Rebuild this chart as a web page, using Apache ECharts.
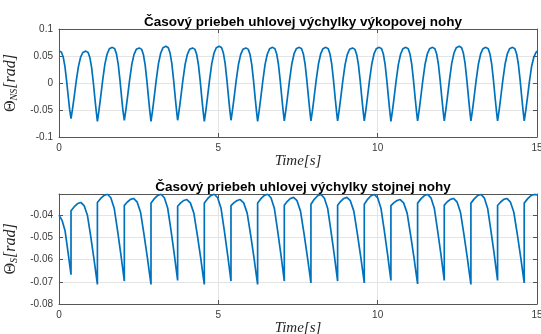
<!DOCTYPE html>
<html><head><meta charset="utf-8">
<script src="https://cdn.jsdelivr.net/npm/echarts@6/dist/echarts.min.js"></script>
<style>html,body{margin:0;padding:0;background:#fff}#c{width:541px;height:334px}</style>
</head><body><div id="c"></div>
<script>
const titleTop = 'Časový priebeh uhlovej výchylky výkopovej nohy';
const titleBottom = 'Časový priebeh uhlovej výchylky stojnej nohy';
const xName = 'Time[s]';
const xTicks = [0, 5, 10, 15];
const nsTicks = [-0.1, -0.05, 0, 0.05, 0.1];
const sTicks = [-0.08, -0.07, -0.06, -0.05, -0.04];
const sMax = -0.0305;

// swing leg (vykopova noha)
const nsTime = [
 0, 0.074, 0.13, 0.185, 0.24, 0.296, 0.333,
 0.377, 0.423, 0.470, 0.539, 0.609, 0.678, 0.748, 0.841, 0.914, 0.968, 1.023, 1.078, 1.132, 1.169,
 1.205, 1.252, 1.299, 1.369, 1.439, 1.510, 1.580, 1.674, 1.748, 1.803, 1.858, 1.913, 1.968, 2.005,
 2.050, 2.097, 2.144, 2.214, 2.284, 2.355, 2.425, 2.519, 2.593, 2.648, 2.703, 2.758, 2.813, 2.850,
 2.887, 2.934, 2.981, 3.051, 3.121, 3.192, 3.262, 3.356, 3.430, 3.485, 3.540, 3.595, 3.650, 3.687,
 3.723, 3.770, 3.817, 3.887, 3.957, 4.028, 4.098, 4.192, 4.266, 4.321, 4.376, 4.431, 4.486, 4.523,
 4.560, 4.607, 4.654, 4.724, 4.794, 4.865, 4.935, 5.029, 5.103, 5.158, 5.213, 5.268, 5.323, 5.360,
 5.397, 5.444, 5.491, 5.561, 5.631, 5.702, 5.772, 5.866, 5.940, 5.995, 6.050, 6.105, 6.160, 6.197,
 6.233, 6.280, 6.327, 6.397, 6.467, 6.538, 6.608, 6.702, 6.776, 6.831, 6.886, 6.941, 6.996, 7.033,
 7.070, 7.117, 7.164, 7.234, 7.304, 7.375, 7.445, 7.539, 7.613, 7.668, 7.723, 7.778, 7.833, 7.870,
 7.906, 7.953, 8.000, 8.070, 8.140, 8.211, 8.281, 8.375, 8.449, 8.504, 8.559, 8.614, 8.669, 8.706,
 8.743, 8.790, 8.837, 8.907, 8.977, 9.048, 9.118, 9.212, 9.286, 9.341, 9.396, 9.451, 9.506, 9.543,
 9.580, 9.627, 9.674, 9.744, 9.814, 9.885, 9.955, 10.049, 10.123, 10.178, 10.233, 10.288, 10.343, 10.380,
 10.416, 10.463, 10.510, 10.580, 10.650, 10.721, 10.791, 10.885, 10.959, 11.014, 11.069, 11.124, 11.179, 11.216,
 11.253, 11.300, 11.347, 11.417, 11.487, 11.558, 11.628, 11.722, 11.796, 11.851, 11.906, 11.961, 12.016, 12.053,
 12.090, 12.137, 12.184, 12.254, 12.324, 12.395, 12.465, 12.559, 12.633, 12.688, 12.743, 12.798, 12.853, 12.890,
 12.926, 12.973, 13.020, 13.090, 13.160, 13.231, 13.301, 13.395, 13.469, 13.524, 13.579, 13.634, 13.689, 13.726,
 13.763, 13.810, 13.857, 13.927, 13.997, 14.068, 14.138, 14.232, 14.306, 14.361, 14.416, 14.471, 14.526, 14.563,
 14.599, 14.646, 14.693, 14.763, 14.833, 14.904, 14.974, 15.0
];
const nsAngle = [
 0.059, 0.0575, 0.0487, 0.031, 0.0033, -0.0282, -0.0484,
 -0.066, -0.0485, -0.0285, 0.0028, 0.0303, 0.0478, 0.0565, 0.059, 0.0564, 0.0473, 0.0291, 0.0005, -0.032, -0.0528,
 -0.071, -0.0518, -0.0299, 0.0044, 0.0345, 0.0537, 0.0633, 0.066, 0.0633, 0.0539, 0.035, 0.0053, -0.0285, -0.0501,
 -0.069, -0.0502, -0.0288, 0.0047, 0.0342, 0.0529, 0.0623, 0.065, 0.0623, 0.0528, 0.0337, 0.0038, -0.0302, -0.052,
 -0.071, -0.0515, -0.0293, 0.0055, 0.036, 0.0555, 0.0652, 0.068, 0.0653, 0.0557, 0.0365, 0.0064, -0.0279, -0.0498,
 -0.069, -0.0502, -0.0288, 0.0047, 0.0342, 0.0529, 0.0623, 0.065, 0.0623, 0.0528, 0.0337, 0.0038, -0.0302, -0.052,
 -0.071, -0.0515, -0.0293, 0.0055, 0.036, 0.0555, 0.0652, 0.068, 0.0653, 0.0557, 0.0365, 0.0064, -0.0279, -0.0498,
 -0.069, -0.0502, -0.0288, 0.0047, 0.0342, 0.0529, 0.0623, 0.065, 0.0623, 0.0528, 0.0337, 0.0038, -0.0302, -0.052,
 -0.071, -0.0518, -0.0299, 0.0044, 0.0345, 0.0537, 0.0633, 0.066, 0.0633, 0.0538, 0.0347, 0.0048, -0.0292, -0.051,
 -0.070, -0.051, -0.0292, 0.0048, 0.0347, 0.0538, 0.0633, 0.066, 0.0633, 0.0538, 0.0347, 0.0048, -0.0292, -0.051,
 -0.070, -0.051, -0.0292, 0.0048, 0.0347, 0.0538, 0.0633, 0.066, 0.0633, 0.0538, 0.0347, 0.0048, -0.0292, -0.051,
 -0.070, -0.0511, -0.0295, 0.0043, 0.034, 0.0529, 0.0623, 0.065, 0.0623, 0.0529, 0.034, 0.0043, -0.0295, -0.0511,
 -0.070, -0.051, -0.0292, 0.0048, 0.0347, 0.0538, 0.0633, 0.066, 0.0633, 0.0537, 0.0345, 0.0044, -0.0299, -0.0518,
 -0.071, -0.0518, -0.0299, 0.0044, 0.0345, 0.0537, 0.0633, 0.066, 0.0633, 0.0538, 0.0347, 0.0048, -0.0292, -0.051,
 -0.070, -0.051, -0.0292, 0.0048, 0.0347, 0.0538, 0.0633, 0.066, 0.0633, 0.0538, 0.0347, 0.0048, -0.0292, -0.051,
 -0.070, -0.0507, -0.0286, 0.0059, 0.0363, 0.0556, 0.0652, 0.068, 0.0652, 0.0556, 0.0363, 0.0059, -0.0286, -0.0507,
 -0.070, -0.051, -0.0292, 0.0048, 0.0347, 0.0538, 0.0633, 0.066, 0.0633, 0.0538, 0.0347, 0.0048, -0.0292, -0.051,
 -0.070, -0.051, -0.0292, 0.0048, 0.0347, 0.0538, 0.0633, 0.066, 0.0633, 0.0538, 0.0347, 0.0048, -0.0292, -0.051,
 -0.070, -0.0515, -0.0302, 0.0030, 0.0315, 0.0485, 0.057, 0.059
];

// stance leg (stojna noha)
const sTime = [
 0, 0.1, 0.19, 0.29, 0.377,
 0.377, 0.479, 0.585, 0.687, 0.791, 0.894, 0.998, 1.101, 1.153, 1.205,
 1.205, 1.309, 1.416, 1.520, 1.626, 1.732, 1.838, 1.944, 1.997, 2.050,
 2.050, 2.146, 2.244, 2.340, 2.449, 2.559, 2.668, 2.778, 2.832, 2.887,
 2.887, 2.991, 3.098, 3.202, 3.306, 3.410, 3.515, 3.619, 3.671, 3.723,
 3.723, 3.819, 3.917, 4.013, 4.122, 4.232, 4.341, 4.451, 4.505, 4.560,
 4.560, 4.664, 4.771, 4.875, 4.979, 5.084, 5.188, 5.293, 5.345, 5.397,
 5.397, 5.493, 5.591, 5.687, 5.796, 5.905, 6.015, 6.124, 6.178, 6.233,
 6.233, 6.337, 6.444, 6.548, 6.652, 6.757, 6.861, 6.966, 7.018, 7.070,
 7.070, 7.166, 7.264, 7.360, 7.469, 7.578, 7.688, 7.797, 7.851, 7.906,
 7.906, 8.010, 8.117, 8.221, 8.325, 8.430, 8.534, 8.639, 8.691, 8.743,
 8.743, 8.839, 8.937, 9.033, 9.142, 9.252, 9.361, 9.471, 9.525, 9.580,
 9.580, 9.684, 9.791, 9.895, 9.999, 10.103, 10.208, 10.312, 10.364, 10.416,
 10.416, 10.512, 10.610, 10.706, 10.815, 10.925, 11.034, 11.144, 11.198, 11.253,
 11.253, 11.357, 11.464, 11.568, 11.672, 11.777, 11.881, 11.986, 12.038, 12.090,
 12.090, 12.186, 12.284, 12.380, 12.489, 12.598, 12.708, 12.817, 12.871, 12.926,
 12.926, 13.030, 13.137, 13.241, 13.345, 13.450, 13.554, 13.659, 13.711, 13.763,
 13.763, 13.859, 13.957, 14.053, 14.162, 14.271, 14.381, 14.490, 14.544, 14.599,
 14.599, 14.703, 14.810, 14.914, 15.0
];
const sAngle = [
 -0.040, -0.0425, -0.047, -0.0574, -0.0668,
 -0.038, -0.0362, -0.0348, -0.0343, -0.0358, -0.0402, -0.0498, -0.0601, -0.0657, -0.0712,
 -0.0343, -0.0325, -0.0311, -0.0306, -0.0322, -0.0369, -0.047, -0.058, -0.0638, -0.0697,
 -0.0356, -0.0341, -0.0329, -0.0325, -0.034, -0.0387, -0.0488, -0.0596, -0.0654, -0.0712,
 -0.0346, -0.0326, -0.0311, -0.0306, -0.0322, -0.0368, -0.0469, -0.0578, -0.0636, -0.0694,
 -0.036, -0.0345, -0.0334, -0.033, -0.0345, -0.0391, -0.049, -0.0597, -0.0655, -0.0712,
 -0.0346, -0.0326, -0.0311, -0.0306, -0.0322, -0.0369, -0.047, -0.058, -0.0638, -0.0697,
 -0.0357, -0.0344, -0.0334, -0.033, -0.0345, -0.0391, -0.049, -0.0597, -0.0655, -0.0712,
 -0.0346, -0.0326, -0.0311, -0.0306, -0.0322, -0.0369, -0.047, -0.058, -0.0638, -0.0697,
 -0.0356, -0.0338, -0.0325, -0.032, -0.0335, -0.0382, -0.0482, -0.059, -0.0647, -0.0705,
 -0.0351, -0.0329, -0.0313, -0.0307, -0.0323, -0.0369, -0.0471, -0.058, -0.0639, -0.0697,
 -0.0356, -0.0338, -0.0325, -0.032, -0.0335, -0.0382, -0.0482, -0.059, -0.0647, -0.0705,
 -0.0351, -0.0329, -0.0313, -0.0307, -0.0322, -0.0369, -0.047, -0.0578, -0.0636, -0.0694,
 -0.0357, -0.0344, -0.0334, -0.033, -0.0345, -0.0391, -0.049, -0.0596, -0.0653, -0.071,
 -0.0346, -0.0327, -0.0312, -0.0307, -0.0322, -0.0369, -0.047, -0.0578, -0.0636, -0.0694,
 -0.0355, -0.034, -0.0329, -0.0325, -0.034, -0.0387, -0.0488, -0.0596, -0.0654, -0.0712,
 -0.0346, -0.0327, -0.0312, -0.0307, -0.0322, -0.0369, -0.047, -0.0578, -0.0636, -0.0694,
 -0.0357, -0.0341, -0.0329, -0.0325, -0.034, -0.0386, -0.0485, -0.0591, -0.0648, -0.0705,
 -0.0346, -0.0327, -0.0312, -0.0307, -0.0309
];

const lineColor = '#0072BD';
const boxColor = '#555555';
const gridColor = '#e4e4e4';
const labelColor = '#3a3a3a';
const fmt = v => String(+v.toFixed(3));

function xAxes(gi) {
  return [{
    type: 'value', gridIndex: gi, min: xTicks[0], max: xTicks[xTicks.length - 1],
    interval: xTicks[1] - xTicks[0],
    axisLine: { show: true, onZero: false, lineStyle: { color: boxColor, width: 1 } },
    axisTick: { show: true, inside: true, length: 4, lineStyle: { color: boxColor } },
    axisLabel: { color: labelColor, fontSize: 10, fontFamily: 'Liberation Sans', margin: 6, formatter: fmt },
    splitLine: { show: true, lineStyle: { color: gridColor, width: 1 } },
    name: xName, nameLocation: 'middle', nameGap: 14,
    nameTextStyle: { fontFamily: 'Liberation Serif', fontStyle: 'italic', fontSize: 15, color: '#262626' }
  }, {
    type: 'value', gridIndex: gi, position: 'top', min: xTicks[0], max: xTicks[xTicks.length - 1],
    interval: xTicks[1] - xTicks[0],
    axisLine: { show: true, onZero: false, lineStyle: { color: boxColor, width: 1 } },
    axisTick: { show: true, inside: true, length: 4, lineStyle: { color: boxColor } },
    axisLabel: { show: false }, splitLine: { show: false }
  }];
}
function yAxes(gi, ticks, maxV, sub) {
  const base = {
    type: 'value', gridIndex: gi, min: ticks[0], max: maxV, interval: ticks[1] - ticks[0],
    axisLine: { show: true, onZero: false, lineStyle: { color: boxColor, width: 1 } },
    axisTick: { show: true, inside: true, length: 4, lineStyle: { color: boxColor } }
  };
  return [Object.assign({}, base, {
    axisLabel: { color: labelColor, fontSize: 10, fontFamily: 'Liberation Sans', margin: 6, formatter: fmt, showMaxLabel: maxV === ticks[ticks.length - 1] },
    splitLine: { show: true, lineStyle: { color: gridColor, width: 1 } },
    name: '{th|Θ}{sub|' + sub + '}{it|[rad]}', nameLocation: 'middle', nameGap: 36,
    nameTextStyle: { rich: {
      th: { fontFamily: 'Liberation Serif', fontSize: 16, color: '#262626' },
      sub: { fontFamily: 'Liberation Serif', fontStyle: 'italic', fontSize: 10, color: '#262626', verticalAlign: 'bottom', padding: [8, 0, 0, 0] },
      it: { fontFamily: 'Liberation Serif', fontStyle: 'italic', fontSize: 16, color: '#262626' }
    } }
  }), Object.assign({}, base, { position: 'right', axisLabel: { show: false }, splitLine: { show: false } })];
}

const chart = echarts.init(document.getElementById('c'), null, { renderer: 'canvas' });
chart.setOption({
  animation: false,
  backgroundColor: '#fff',
  title: [
    { text: titleTop, left: 298, top: 10, textAlign: 'center',
      textStyle: { fontFamily: 'Liberation Sans', fontWeight: 'bold', fontSize: 13.5, color: '#000' } },
    { text: titleBottom, left: 298, top: 175, textAlign: 'center',
      textStyle: { fontFamily: 'Liberation Sans', fontWeight: 'bold', fontSize: 13.5, color: '#000' } }
  ],
  grid: [
    { left: 59, right: 4, top: 29, height: 108, containLabel: false, outerBoundsMode: 'none' },
    { left: 59, right: 4, top: 194, height: 110, containLabel: false, outerBoundsMode: 'none' }
  ],
  xAxis: xAxes(0).concat(xAxes(1)),
  yAxis: yAxes(0, nsTicks, nsTicks[nsTicks.length - 1], 'NS').concat(yAxes(1, sTicks, sMax, 'S')),
  series: [
    { type: 'line', xAxisIndex: 0, yAxisIndex: 0, showSymbol: false, symbol: 'none',
      lineStyle: { color: lineColor, width: 1.7 }, data: nsTime.map((t, i) => [t, nsAngle[i]]) },
    { type: 'line', xAxisIndex: 2, yAxisIndex: 2, showSymbol: false, symbol: 'none',
      lineStyle: { color: lineColor, width: 1.7 }, data: sTime.map((t, i) => [t, sAngle[i]]) }
  ]
});
</script></body></html>
